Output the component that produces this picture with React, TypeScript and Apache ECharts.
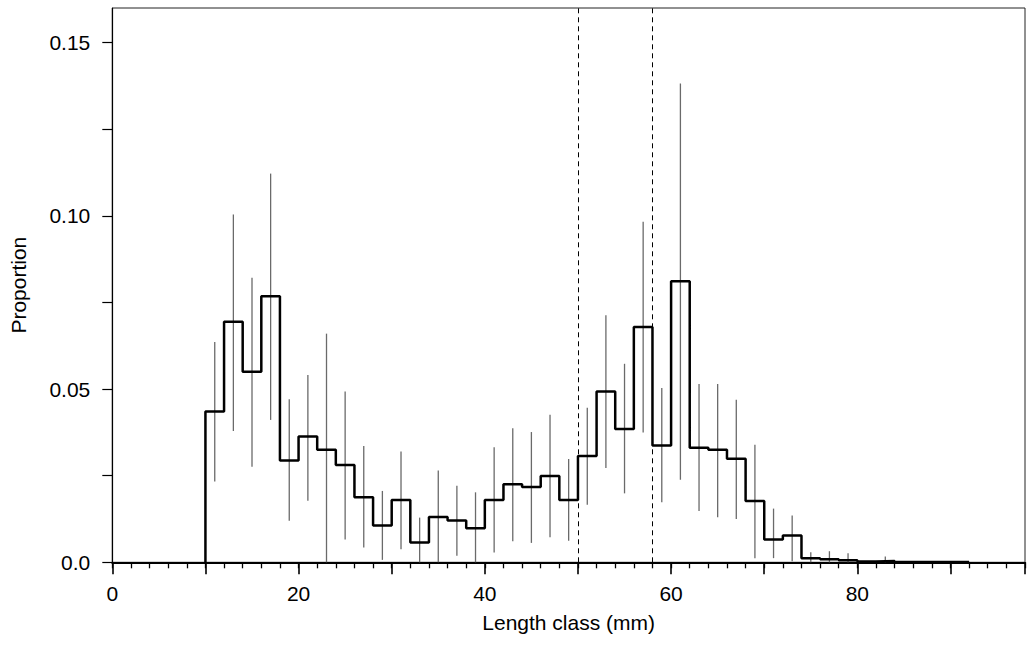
import React, { useEffect, useRef } from "react";
import * as echarts from "echarts";

// Bin lower edges (mm), bin width 2
const binStarts = [10,12,14,16,18,20,22,24,26,28,30,32,34,36,38,40,42,44,46,48,50,52,54,56,58,60,62,64,66,68,70,72,74,76,78,80,82,84,86,88,90];
const proportions = [0.0435,0.0694,0.0550,0.0768,0.0294,0.0363,0.0325,0.0281,0.0188,0.0106,0.0180,0.0057,0.0131,0.0121,0.0098,0.0180,0.0225,0.0217,0.0249,0.0180,0.0307,0.0493,0.0385,0.0679,0.0337,0.0811,0.0331,0.0325,0.0299,0.0177,0.0066,0.0077,0.0012,0.0009,0.0006,0.0002,0.0004,0.0001,0.0001,0.0001,0.0001];

// Error bars at bin centres
const errCenters = [11,13,15,17,19,21,23,25,27,29,31,33,35,37,39,41,43,45,47,49,51,53,55,57,59,61,63,65,67,69,71,73,75,77,79,83];
const errLow = [0.0233,0.0379,0.0276,0.0411,0.0120,0.0178,0.0,0.0066,0.0043,0.0007,0.0038,0.0,0.0,0.0019,0.0,0.0028,0.0061,0.0056,0.0072,0.0062,0.0166,0.0272,0.0199,0.0375,0.0173,0.0238,0.0148,0.0130,0.0125,0.0012,0.0012,0.0003,0.0,0.0,0.0,0.0];
const errHigh = [0.0636,0.1004,0.0821,0.1122,0.0471,0.0541,0.066,0.0493,0.0336,0.0206,0.032,0.0129,0.0265,0.0221,0.0202,0.0332,0.0387,0.0376,0.0426,0.0298,0.0446,0.0713,0.0573,0.0983,0.0503,0.1382,0.0515,0.0515,0.0469,0.0339,0.0155,0.0135,0.0029,0.0032,0.0026,0.0017];

const refLines = [50, 58];
const yTickValues = [0, 0.025, 0.05, 0.075, 0.1, 0.125, 0.15];
const yLabelValues = [0, 0.05, 0.1, 0.15];
const binWidth = 2;

const FONT = "'Liberation Sans', Arial, Helvetica, sans-serif";
const FS = 21;

export default function App() {
  const ref = useRef<HTMLDivElement>(null);
  useEffect(() => {
    if (!ref.current) return;
    const chart = echarts.init(ref.current, undefined, { renderer: "svg" });

    const stepData: number[][] = [[binStarts[0], 0]];
    binStarts.forEach((b, i) => stepData.push([b, proportions[i]]));
    const last = binStarts.length - 1;
    stepData.push([binStarts[last] + binWidth, proportions[last]]);

    const errData = errCenters.map((c, i) => [c, errLow[i], errHigh[i]]);

    const pxPerUnit = 9.45;
    const xMax = 98;

    const commonX = {
      type: "value" as const,
      min: 0,
      max: xMax,
      gridIndex: 0,
      position: "bottom" as const,
      splitLine: { show: false },
      axisLine: { show: false },
    };

    chart.setOption({
      animation: false,
      backgroundColor: "#ffffff",
      grid: {
        left: 112.3,
        top: 8,
        width: xMax * pxPerUnit,
        height: 554.3,
        show: true,
        borderColor: "#222",
        borderWidth: 1,
        backgroundColor: "transparent",
      },
      xAxis: [
        {
          ...commonX,
          interval: 2,
          axisTick: { show: true, length: 6, lineStyle: { color: "#000", width: 1.3 } },
          axisLabel: { show: false },
          axisLine: { show: true, onZero: false, lineStyle: { color: "#000", width: 2 } },
        },
        {
          ...commonX,
          interval: 10,
          axisTick: { show: true, length: 12, lineStyle: { color: "#000", width: 1.6 } },
          axisLabel: {
            show: true,
            margin: 21,
            color: "#000",
            fontSize: FS,
            fontFamily: FONT,
            formatter: (v: number) => (v % 20 === 0 && v <= 80 ? String(v) : ""),
          },
          name: "Length class (mm)",
          nameLocation: "middle",
          nameGap: 50,
          nameTextStyle: { color: "#000", fontSize: FS, fontFamily: FONT },
        },
      ],
      yAxis: {
        type: "value",
        min: 0,
        max: 0.16,
        interval: 0.025,
        splitLine: { show: false },
        axisLine: { show: true, onZero: false, lineStyle: { color: "#000", width: 1.2 } },
        axisTick: {
          show: true,
          length: 10,
          customValues: yTickValues,
          lineStyle: { color: "#000", width: 1.2 },
        },
        axisLabel: {
          show: true,
          margin: 22,
          color: "#000",
          fontSize: FS,
          fontFamily: FONT,
          customValues: yLabelValues,
          formatter: (v: number) => (v === 0 ? "0.0" : v.toFixed(2)),
        },
        name: "Proportion",
        nameLocation: "middle",
        nameGap: 83,
        nameTextStyle: { color: "#000", fontSize: FS, fontFamily: FONT },
      },
      series: [
        {
          type: "custom",
          xAxisIndex: 0,
          yAxisIndex: 0,
          z: 2,
          data: errData,
          renderItem: (params: any, api: any) => {
            const p1 = api.coord([api.value(0), api.value(1)]);
            const p2 = api.coord([api.value(0), api.value(2)]);
            return {
              type: "line",
              shape: { x1: p1[0], y1: p1[1], x2: p2[0], y2: p2[1] },
              style: { stroke: "#6a6a6a", lineWidth: 1.3 },
            };
          },
        },
        {
          type: "line",
          xAxisIndex: 0,
          yAxisIndex: 0,
          z: 3,
          step: "end",
          data: stepData,
          showSymbol: false,
          symbol: "none",
          lineStyle: { color: "#000", width: 2.5 },
          markLine: {
            silent: true,
            symbol: "none",
            label: { show: false },
            lineStyle: { color: "#000", width: 1, type: [5, 4] },
            data: refLines.map((v) => ({ xAxis: v })),
          },
        },
      ],
    });

    return () => chart.dispose();
  }, []);

  return (
    <div
      ref={ref}
      style={{ position: "fixed", left: 0, top: 0, width: 1028, height: 657, background: "#fff" }}
    />
  );
}
